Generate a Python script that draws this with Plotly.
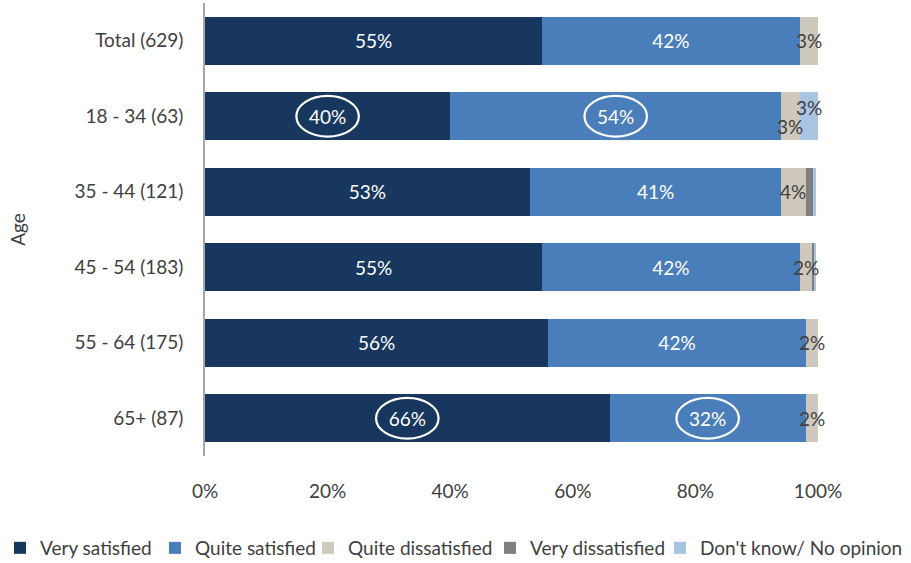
import plotly.graph_objects as go

# Survey results by age band (share of respondents, %)
groups = ["Total (629)", "18 - 34 (63)", "35 - 44 (121)", "45 - 54 (183)", "55 - 64 (175)", "65+ (87)"]
very_satisfied = [55, 40, 53, 55, 56, 66]
quite_satisfied = [42, 54, 41, 42, 42, 32]
quite_dissatisfied = [3, 3, 4, 2, 2, 2]
very_dissatisfied = [0.4, 0, 1.2, 0.5, 0, 0]
dont_know = [0.3, 3, 0.5, 0.2, 0, 0]

series = [
    ("Very satisfied", very_satisfied, "#17375e"),
    ("Quite satisfied", quite_satisfied, "#4a7ebb"),
    ("Quite dissatisfied", quite_dissatisfied, "#cfc8bd"),
    ("Very dissatisfied", very_dissatisfied, "#7f7f7f"),
    ("Don't know/ No opinion", dont_know, "#a9c4e2"),
]

FONT = "Lato, sans-serif"
FS = 19
TXT = "#404040"
ML, MR, MT, MB = 205, 93, 3, 107
W, H = 911, 563
PW = W - ML - MR
PH = H - MT - MB
ypos = list(range(len(groups)))

# one single-entry legend per series so the row can span the full width
legend_left_px = [0, 155, 308, 490, 660]
legend_names = ["legend"] + [f"legend{i}" for i in range(2, len(series) + 1)]

fig = go.Figure()
for i, (name, vals, col) in enumerate(series):
    big = i < 2
    fig.add_trace(go.Bar(
        name=name, y=ypos, x=vals, orientation="h", marker_color=col,
        marker_line_width=0, width=0.64,
        text=[f"{v:g}%" for v in vals] if big else None,
        textposition="inside" if big else "none",
        insidetextanchor="middle",
        textfont=dict(color="white", size=FS, family=FONT),
        hoverinfo="x+name",
        legend=legend_names[i],
    ))

# Small segment labels placed at the segment centres (with slight offsets where they overlap)
cum = [a + b for a, b in zip(very_satisfied, quite_satisfied)]
for k in range(len(groups)):
    qd = quite_dissatisfied[k]
    dy = 0
    if dont_know[k] >= 1:
        dy = 0.13
        dk_x = cum[k] + qd + very_dissatisfied[k] + dont_know[k] / 2
        fig.add_annotation(x=dk_x, y=k - 0.12, text=f"{dont_know[k]:g}%", showarrow=False,
                           font=dict(color=TXT, size=FS, family=FONT), xanchor="center")
    fig.add_annotation(x=cum[k] + qd / 2, y=k + dy, text=f"{qd:g}%", showarrow=False,
                       font=dict(color=TXT, size=FS, family=FONT), xanchor="center")

# Highlight ellipses around selected values
def ring(x_lo, x_hi, k):
    mid = (x_lo + x_hi) / 2
    fig.add_shape(type="circle", xref="x", yref="y",
                  x0=mid - 5.1, x1=mid + 5.1, y0=k - 0.27, y1=k + 0.27,
                  line=dict(color="white", width=2.2), fillcolor="rgba(0,0,0,0)")

ring(0, very_satisfied[1], 1)
ring(very_satisfied[1], cum[1], 1)
ring(0, very_satisfied[5], 5)
ring(very_satisfied[5], cum[5], 5)

legend_y = -(548 - (MT + PH)) / PH
legend_layout = {}
for name, px in zip(legend_names, legend_left_px):
    legend_layout[name] = dict(
        orientation="h", x=(px - ML) / PW, xanchor="left",
        y=legend_y, yanchor="middle", font=dict(size=FS, color=TXT, family=FONT),
        itemwidth=30, bgcolor="rgba(0,0,0,0)",
    )

fig.update_layout(
    barmode="stack",
    width=W, height=H,
    margin=dict(l=ML, r=MR, t=MT, b=MB, autoexpand=False),
    plot_bgcolor="white", paper_bgcolor="white",
    font=dict(family=FONT, size=FS, color=TXT),
    showlegend=True,
    xaxis=dict(range=[0, 100], tickvals=[0, 20, 40, 60, 80, 100],
               ticktext=["0%", "20%", "40%", "60%", "80%", "100%"],
               showgrid=False, zeroline=False, showline=False, ticks="",
               ticklabelstandoff=22, tickfont=dict(size=FS, color=TXT)),
    yaxis=dict(tickvals=ypos, ticktext=groups, range=[5.5, -0.5],
               showgrid=False, zeroline=False, showline=True, linecolor="#a6a6a6",
               linewidth=1.5, ticks="", ticklabelstandoff=16,
               title=dict(text="Age", standoff=44, font=dict(size=FS, color=TXT)),
               tickfont=dict(size=FS, color=TXT)),
    **legend_layout,
)

fig.write_html("out.html")
